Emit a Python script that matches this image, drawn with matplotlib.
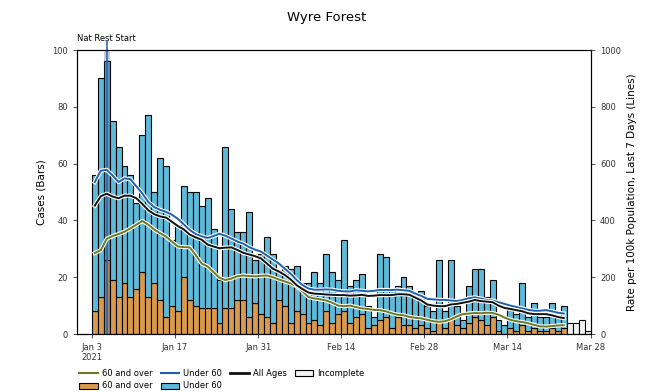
import matplotlib
matplotlib.use("Agg")
import matplotlib.pyplot as plt
import matplotlib.dates as mdates
import matplotlib.patheffects as pe
from matplotlib.lines import Line2D
from matplotlib.patches import Patch
import numpy as np
import pandas as pd

# ---------------- data ----------------
start_date = "2021-01-03"
total_cases = [56, 90, 96, 75, 66, 59, 56, 46, 70, 77,
               50, 62, 59, 33, 38, 52, 50, 50, 45, 48,
               37, 19, 66, 44, 36, 36, 43, 26, 28, 34,
               28, 22, 24, 23, 24, 18, 18, 22, 18, 28,
               22, 19, 33, 17, 19, 21, 10, 6, 28, 27,
               16, 17, 20, 17, 14, 15, 10, 8, 26, 8,
               26, 10, 5, 17, 23, 23, 13, 19, 5, 3,
               9, 7, 18, 6, 11, 6, 6, 11, 6, 10]
over60_cases = [8, 13, 26, 19, 13, 18, 13, 16, 22, 13,
                18, 12, 6, 10, 8, 20, 12, 10, 9, 9,
                9, 4, 9, 9, 12, 12, 6, 11, 7, 6,
                4, 12, 10, 4, 8, 7, 4, 5, 3, 8,
                4, 7, 8, 4, 6, 7, 2, 3, 5, 6,
                2, 6, 3, 3, 2, 3, 2, 1, 5, 2,
                6, 3, 2, 4, 6, 5, 3, 6, 1, 0,
                2, 1, 3, 1, 2, 1, 1, 2, 1, 2]
incomplete_cases = [4, 4, 5, 1]

rate_all = [452, 485, 494, 484, 478, 487, 487, 478, 458, 436,
            422, 414, 410, 395, 380, 368, 350, 340, 332, 315,
            308, 302, 304, 305, 296, 286, 280, 274, 266, 248,
            230, 220, 208, 192, 172, 158, 146, 142, 141, 139,
            138, 137, 137, 135, 136, 138, 134, 135, 137, 137,
            137, 140, 140, 138, 128, 118, 104, 100, 98, 98,
            104, 106, 110, 114, 120, 116, 114, 112, 100, 92,
            88, 84, 80, 73, 70, 70, 70, 66, 60, 56]
rate_under60 = [535, 575, 578, 558, 535, 548, 545, 520, 495, 465,
                447, 437, 430, 420, 405, 386, 366, 352, 344, 338,
                345, 353, 346, 336, 326, 318, 306, 297, 290, 276,
                262, 248, 230, 212, 190, 172, 160, 156, 156, 157,
                156, 152, 150, 150, 154, 152, 150, 152, 155, 155,
                155, 156, 154, 152, 142, 134, 124, 122, 120, 120,
                118, 116, 120, 126, 129, 125, 120, 118, 112, 106,
                100, 95, 90, 85, 82, 82, 84, 80, 75, 72]
rate_over60 = [285, 295, 335, 345, 352, 360, 372, 385, 398, 385,
               368, 355, 343, 325, 308, 306, 305, 278, 248, 238,
               218, 198, 190, 195, 203, 206, 204, 203, 205, 206,
               200, 192, 185, 178, 168, 150, 130, 125, 122, 118,
               110, 100, 98, 100, 95, 90, 88, 85, 84, 80,
               73, 68, 66, 60, 57, 55, 50, 45, 43, 45,
               52, 62, 70, 72, 74, 73, 75, 74, 68, 58,
               50, 45, 42, 38, 32, 27, 26, 28, 30, 31]

event_date = "2021-01-05"
event_label = "Nat Rest Start"
title = "Wyre Forest"

# ---------------- styles ----------------
C_OVER = "#d99a4e"
C_UNDER = "#5fb9d8"
C_L_OVER = "#6b7a23"
C_L_UNDER = "#1f5fb0"
C_L_ALL = "#111111"
C_INC = "#f2f2f2"

n = len(total_cases)
dates = pd.date_range(start_date, periods=n)
x = mdates.date2num(dates)
inc_dates = pd.date_range(dates[-1] + pd.Timedelta(days=1), periods=len(incomplete_cases))
xi = mdates.date2num(inc_dates)
total = np.array(total_cases, dtype=float)
over = np.array(over60_cases, dtype=float)
under = total - over

fig = plt.figure(figsize=(6.53, 3.92), dpi=100)
ax = fig.add_axes([77/653, 1-334/392, (591-77)/653, (334-50)/392])
ax2 = ax.twinx()

ax.bar(x, over, width=1, align="edge", color=C_OVER, edgecolor="black", linewidth=0.8, zorder=2)
ax.bar(x, under, bottom=over, width=1, align="edge", color=C_UNDER, edgecolor="black", linewidth=0.8, zorder=2)
ax.bar(xi, incomplete_cases, width=1, align="edge", color=C_INC, edgecolor="black", linewidth=0.8, zorder=2)

ev = mdates.date2num(pd.Timestamp(event_date))
ax.axvspan(ev, ev + 1, color="#1f4e79", alpha=0.28, lw=0, zorder=3)
ax.axvline(ev + 0.5, color="#2a5fa8", lw=1.1, zorder=4, ymin=0, ymax=1.03, clip_on=False)
ax.text(ev + 0.5, 102.5, event_label, ha="center", va="bottom", fontsize=6)

xc = x + 0.5
stroke = [pe.Stroke(linewidth=3.0, foreground="white"), pe.Normal()]
ax2.plot(xc, rate_over60, color=C_L_OVER, lw=1.4, path_effects=stroke, zorder=5)
ax2.plot(xc, rate_under60, color=C_L_UNDER, lw=1.4, path_effects=stroke, zorder=5)
ax2.plot(xc, rate_all, color=C_L_ALL, lw=1.4, path_effects=stroke, zorder=6)

ax.set_ylim(0, 100)
ax2.set_ylim(0, 1000)
ax.set_yticks(np.arange(0, 101, 20))
ax2.set_yticks(np.arange(0, 1001, 200))
ax.set_xlim(mdates.date2num(pd.Timestamp("2020-12-31 12:00")),
            mdates.date2num(pd.Timestamp("2021-03-28 02:00")))
ticks = pd.date_range("2021-01-03", "2021-03-28", freq="14D")
ax.set_xticks(mdates.date2num(ticks))
labels = [d.strftime("%b ") + str(d.day) for d in ticks]
labels[0] = labels[0] + "\n2021"
ax.set_xticklabels(labels)

for a in (ax, ax2):
    a.tick_params(labelsize=6, length=3, width=0.6, colors="#333333")
    for s in a.spines.values():
        s.set_linewidth(0.8)
ax.set_ylabel("Cases (Bars)", fontsize=7.5)
ax2.set_ylabel("Rate per 100k Population, Last 7 Days (Lines)", fontsize=7.5)
ax2.set_zorder(ax.get_zorder() + 1)
ax2.patch.set_visible(False)
fig.suptitle(title, y=0.972, fontsize=9.5)

handles = [
    Line2D([], [], color=C_L_OVER, lw=1.5),
    Patch(facecolor=C_OVER, edgecolor="black", lw=0.8),
    Line2D([], [], color=C_L_UNDER, lw=1.5),
    Patch(facecolor=C_UNDER, edgecolor="black", lw=0.8),
    Line2D([], [], color=C_L_ALL, lw=2),
    Patch(facecolor=C_INC, edgecolor="black", lw=0.8),
]
names = ["60 and over", "60 and over", "Under 60", "Under 60", "All Ages", "Incomplete"]
fig.legend(handles, names, loc="upper left", bbox_to_anchor=(75/653, 1-365/392), ncol=4,
           frameon=False, fontsize=6, handlelength=2.2, columnspacing=1.0,
           handletextpad=0.5, labelspacing=0.4, borderpad=0)

fig.savefig("out.png", dpi=100)
